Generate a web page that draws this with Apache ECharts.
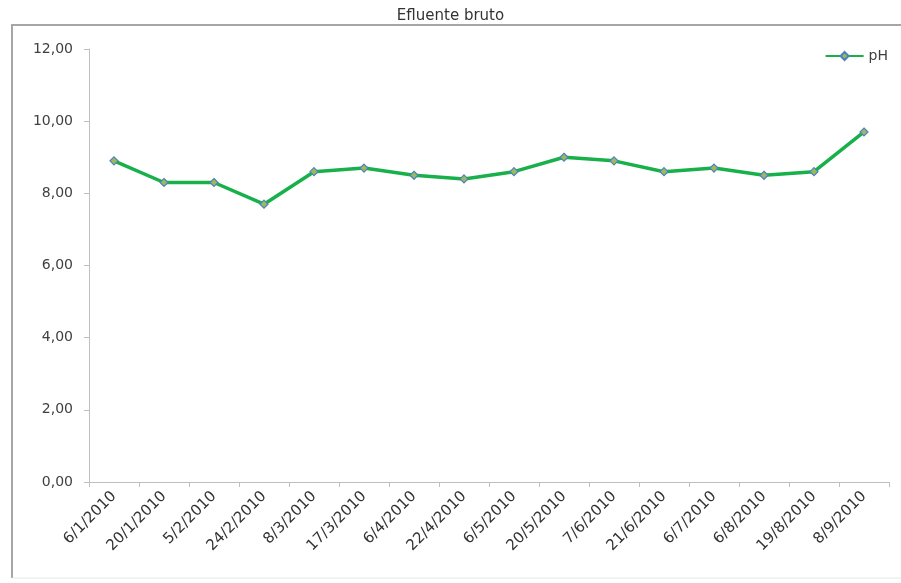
<!DOCTYPE html>
<html>
<head>
<meta charset="utf-8">
<script src="https://cdn.jsdelivr.net/npm/echarts@6/dist/echarts.min.js"></script>
<style>html,body{margin:0;padding:0;background:#fff}#c{width:901px;height:583px}</style>
</head>
<body>
<div id="c"></div>
<script>
var categories = ['6/1/2010','20/1/2010','5/2/2010','24/2/2010','8/3/2010','17/3/2010','6/4/2010','22/4/2010','6/5/2010','20/5/2010','7/6/2010','21/6/2010','6/7/2010','6/8/2010','19/8/2010','8/9/2010'];
var phValues = [8.9, 8.3, 8.3, 7.7, 8.6, 8.7, 8.5, 8.4, 8.6, 9.0, 8.9, 8.6, 8.7, 8.5, 8.6, 9.7];
var seriesName = 'pH';
var chartTitle = 'Efluente bruto';

var chart = echarts.init(document.getElementById('c'));
chart.setOption({
  backgroundColor: '#fff',
  animation: false,
  title: {
    text: chartTitle, left: 'center', top: 4,
    textStyle: {fontFamily: 'DejaVu Sans', fontSize: 15, fontWeight: 'normal', color: '#333'}
  },
  graphic: [{
    type: 'polyline', silent: true,
    shape: {points: [[12, 578], [12, 25], [901, 25]]},
    style: {stroke: '#a6a6a6', lineWidth: 2, fill: null}
  }, {
    type: 'line', silent: true,
    shape: {x1: 12, y1: 578, x2: 901, y2: 578},
    style: {stroke: '#e8e8e8', lineWidth: 1}
  }],
  legend: {
    right: 8, top: 44,
    itemWidth: 38, itemHeight: 10,
    textStyle: {fontFamily: 'DejaVu Sans', fontSize: 14, color: '#404040'},
    data: [seriesName]
  },
  grid: {left: 89, right: 12, top: 49, bottom: 101, containLabel: false},
  xAxis: {
    type: 'category', data: categories, boundaryGap: true,
    axisLine: {lineStyle: {color: '#bfbfbf'}},
    axisTick: {show: true, alignWithLabel: false, length: 5, lineStyle: {color: '#bfbfbf'}},
    axisLabel: {rotate: 45, interval: 0, margin: 12, fontFamily: 'DejaVu Sans', fontSize: 15, color: '#333'}
  },
  yAxis: {
    type: 'value', min: 0, max: 12, interval: 2,
    axisLine: {show: true, lineStyle: {color: '#bfbfbf'}},
    axisTick: {show: true, length: 5, lineStyle: {color: '#bfbfbf'}},
    splitLine: {show: false},
    axisLabel: {
      margin: 16, fontFamily: 'DejaVu Sans', fontSize: 14, color: '#404040',
      formatter: function (v) { return v.toFixed(2).replace('.', ','); }
    }
  },
  series: [{
    name: seriesName, type: 'line', data: phValues,
    symbol: 'diamond', symbolSize: 8,
    lineStyle: {color: '#18b04a', width: 3.5},
    itemStyle: {color: '#9bbb59', borderColor: '#4f81bd', borderWidth: 1.2}
  }]
});
</script>
</body>
</html>
